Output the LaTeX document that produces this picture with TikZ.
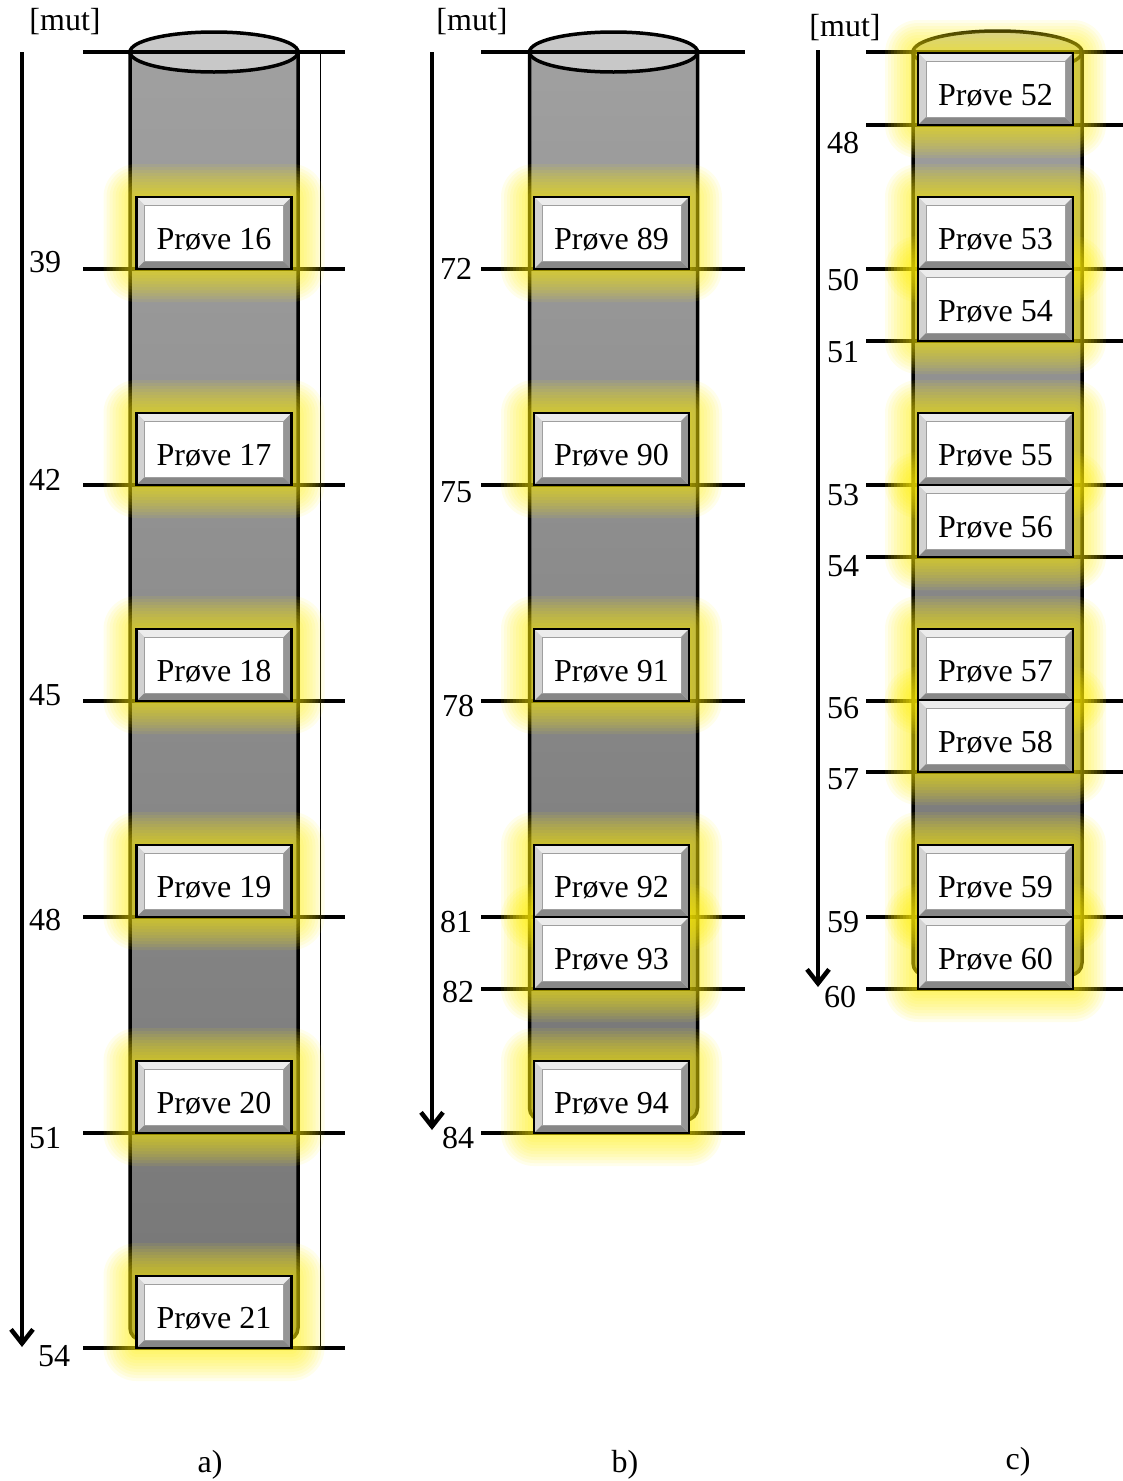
\documentclass[tikz,border=0pt]{standalone}
\usepackage{fontspec}
\setmainfont{Liberation Serif}
\usetikzlibrary{calc,arrows.meta}
\definecolor{cyltop}{RGB}{160,160,160}
\definecolor{cylbot}{RGB}{118,118,118}
\definecolor{capfill}{RGB}{200,200,200}
\definecolor{glowc}{RGB}{255,238,0}
\definecolor{bevA}{RGB}{236,236,236}
\definecolor{bevB}{RGB}{210,210,210}
\definecolor{bevC}{RGB}{135,135,135}
\definecolor{bevD}{RGB}{150,150,150}
\tikzset{
  cyl/.style={draw=black, line width=3.5pt, top color=cyltop, bottom color=cylbot, rounded corners=12pt},
  capell/.style={draw=black, line width=3.5pt, fill=capfill},
  level/.style={line width=3.5pt},
  thinline/.style={line width=1pt},
  depth/.style={line width=3.5pt, -{Straight Barb[length=14pt,width=22pt,line width=4.5pt]}},
  lbl/.style={font=\fontsize{32}{38}\selectfont, inner sep=0pt},
  probe/.style={draw=black, line width=2.5pt, fill=bevB, minimum width=155pt, minimum height=72pt,
    inner sep=0pt, text height=33pt, text depth=1pt, font=\fontsize{32}{38}\selectfont,
    path picture={
      \coordinate (pa) at (path picture bounding box.south west);
      \coordinate (pb) at (path picture bounding box.north east);
      \fill[bevA] (pa|-pb) -- (pb) -- ($(pb)+(-8pt,-8pt)$) -- ($(pa|-pb)+(8pt,-8pt)$) -- cycle;
      \fill[bevB] (pa) -- (pa|-pb) -- ($(pa|-pb)+(8pt,-8pt)$) -- ($(pa)+(8pt,8pt)$) -- cycle;
      \fill[bevC] (pa) -- (pb|-pa) -- ($(pb|-pa)+(-8pt,8pt)$) -- ($(pa)+(8pt,8pt)$) -- cycle;
      \fill[bevD] (pb|-pa) -- (pb) -- ($(pb)+(-8pt,-8pt)$) -- ($(pb|-pa)+(-8pt,8pt)$) -- cycle;
      \filldraw[fill=white, draw=gray!75, line width=1pt] ($(pa)+(8pt,8pt)$) rectangle ($(pb)+(-8pt,-8pt)$);
    }},
}
\begin{document}
\begin{tikzpicture}[x=1pt,y=-1pt]
\useasboundingbox (0,0) rectangle (1123,1481);

% ---------- cylinders ----------
\path[cyl] (130,52) -- (130,1340) -- (298,1340) -- (298,52);
\draw[capell] (214,52) ellipse [x radius=84pt, y radius=20pt];
\path[cyl] (529.5,52) -- (529.5,1120) -- (697.5,1120) -- (697.5,52);
\draw[capell] (613.5,52) ellipse [x radius=84pt, y radius=20pt];
\path[cyl] (913,52) -- (913,975) -- (1082,975) -- (1082,52);
\draw[capell] (997.5,52) ellipse [x radius=84.5pt, y radius=21pt];

% ---------- level lines ----------
\foreach \y in {52,269,485,701,917,1133,1348} \draw[level] (83,\y) -- (345,\y);
\foreach \y in {52,269,485,701,917,989,1133} \draw[level] (481,\y) -- (745,\y);
\foreach \y in {52,125,269,341,485,557,701,772,917,989} \draw[level] (866,\y) -- (1123,\y);
\draw[thinline] (320,52) -- (320,1348);

% ---------- glow ----------
\foreach \xc/\yb in {214/269,214/485,214/701,214/917,214/1133,214/1348,
  611.5/269,611.5/485,611.5/701,611.5/917,611.5/989,611.5/1133,
  995.5/125,995.5/269,995.5/341,995.5/485,995.5/557,995.5/701,995.5/772,995.5/917,995.5/989}
{
  \foreach \o in {3,6,...,33}
    \fill[glowc, fill opacity=0.08, rounded corners=\o pt] (\xc-77.5-\o,\yb-72-\o) rectangle (\xc+77.5+\o,\yb+\o);
}

% ---------- samples ----------
\node[probe] (p16) at (214,233) {Prøve 16};
\node[probe] (p17) at (214,449) {Prøve 17};
\node[probe] (p18) at (214,665) {Prøve 18};
\node[probe] (p19) at (214,881) {Prøve 19};
\node[probe] (p20) at (214,1097) {Prøve 20};
\node[probe] (p21) at (214,1312) {Prøve 21};

\node[probe] (p89) at (611.5,233) {Prøve 89};
\node[probe] (p90) at (611.5,449) {Prøve 90};
\node[probe] (p91) at (611.5,665) {Prøve 91};
\node[probe] (p92) at (611.5,881) {Prøve 92};
\node[probe] (p93) at (611.5,953) {Prøve 93};
\node[probe] (p94) at (611.5,1097) {Prøve 94};

\node[probe] (p52) at (995.5,89) {Prøve 52};
\node[probe] (p53) at (995.5,233) {Prøve 53};
\node[probe] (p54) at (995.5,305) {Prøve 54};
\node[probe] (p55) at (995.5,449) {Prøve 55};
\node[probe] (p56) at (995.5,521) {Prøve 56};
\node[probe] (p57) at (995.5,665) {Prøve 57};
\node[probe] (p58) at (995.5,736) {Prøve 58};
\node[probe] (p59) at (995.5,881) {Prøve 59};
\node[probe] (p60) at (995.5,953) {Prøve 60};

% ---------- depth arrows ----------
\coordinate (aa) at (22,52);  \coordinate (ae) at (22,1347);
\coordinate (ba) at (432,52); \coordinate (be) at (432,1130);
\coordinate (ca) at (818,50); \coordinate (ce) at (818,987);
\draw[depth] (aa) -- (ae);
\draw[depth] (ba) -- (be);
\draw[depth] (ca) -- (ce);

% ---------- labels ----------
\node[lbl] (ua) at (65,22) {[mut]};
\node[lbl] (la39) at (45,262) {39};
\node[lbl] (la42) at (45,480) {42};
\node[lbl] (la45) at (45,695) {45};
\node[lbl] (la48) at (45,920) {48};
\node[lbl] (la51) at (45,1138) {51};
\node[lbl] (la54) at (54,1356) {54};

\node[lbl] (ub) at (472,22) {[mut]};
\node[lbl] (lb72) at (456,269) {72};
\node[lbl] (lb75) at (456,492) {75};
\node[lbl] (lb78) at (458,706) {78};
\node[lbl] (lb81) at (456,922) {81};
\node[lbl] (lb82) at (458,992) {82};
\node[lbl] (lb84) at (458,1138) {84};

\node[lbl] (uc) at (845,28) {[mut]};
\node[lbl] (lc48) at (843,143) {48};
\node[lbl] (lc50) at (843,280) {50};
\node[lbl] (lc51) at (843,352) {51};
\node[lbl] (lc53) at (843,495) {53};
\node[lbl] (lc54) at (843,566) {54};
\node[lbl] (lc56) at (843,708) {56};
\node[lbl] (lc57) at (843,779) {57};
\node[lbl] (lc59) at (843,922) {59};
\node[lbl] (lc60) at (840,997) {60};

\node[lbl] (capa) at (210,1465) {a)};
\node[lbl] (capb) at (625,1465) {b)};
\node[lbl] (capc) at (1018,1462) {c)};
\end{tikzpicture}
\end{document}
